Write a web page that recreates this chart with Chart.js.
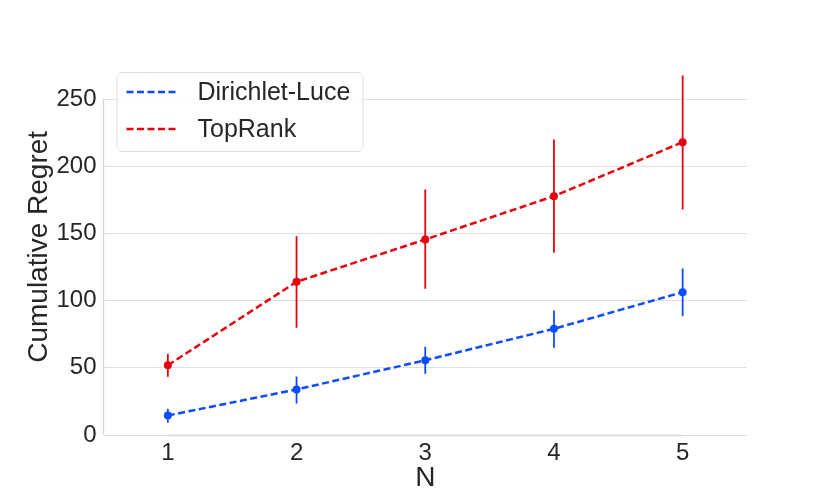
<!DOCTYPE html>
<html lang="en">
<head>
<meta charset="UTF-8">
<title>Cumulative Regret vs N</title>
<script src="https://cdn.jsdelivr.net/npm/chart.js@4.4.1/dist/chart.umd.min.js"></script>
<style>
  html, body { margin: 0; padding: 0; background: #fff; }
  #wrap { width: 830px; height: 498px; position: relative; }
</style>
</head>
<body>
<div id="wrap"><canvas id="chart"></canvas></div>
<script>
// data
var nValues = [1, 2, 3, 4, 5];
var yTicks = [0, 50, 100, 150, 200, 250];

var dlMean = [14.5, 33.9, 55.6, 79.0, 106.3];
var dlLow  = [9.1, 23.4, 45.5, 64.9, 88.4];
var dlHigh = [19.5, 43.5, 65.6, 92.6, 123.9];

var trMean = [51.9, 114.0, 145.5, 177.7, 217.9];
var trLow  = [43.3, 79.8, 108.8, 135.6, 167.8];
var trHigh = [60.4, 147.9, 182.7, 219.9, 267.5];

var BLUE = '#0d4cff';
var RED = '#e8000b';
var FONT = "Arial, 'Liberation Sans', sans-serif";
var TEXT = '#262626';

function pts(ys) {
  return nValues.map(function (n, i) { return { x: n, y: ys[i] }; });
}

// vertical error bars
var errorBars = {
  id: 'errorBars',
  afterDatasetsDraw: function (chart) {
    var ctx = chart.ctx, xs = chart.scales.x, ys = chart.scales.y;
    chart.data.datasets.forEach(function (ds) {
      ctx.save();
      ctx.strokeStyle = ds.borderColor;
      ctx.lineWidth = 1.8;
      for (var i = 0; i < nValues.length; i++) {
        var px = xs.getPixelForValue(nValues[i]);
        ctx.beginPath();
        ctx.moveTo(px, ys.getPixelForValue(ds.errLow[i]));
        ctx.lineTo(px, ys.getPixelForValue(ds.errHigh[i]));
        ctx.stroke();
      }
      ctx.restore();
    });
  }
};

// trimmed spines like seaborn despine(trim=True)
var spines = {
  id: 'spines',
  beforeDatasetsDraw: function (chart) {
    var ctx = chart.ctx, xs = chart.scales.x, ys = chart.scales.y, a = chart.chartArea;
    ctx.save();
    ctx.strokeStyle = '#d6d6d6';
    ctx.lineWidth = 1.3;
    ctx.beginPath();
    ctx.moveTo(a.left, ys.getPixelForValue(yTicks[0]));
    ctx.lineTo(a.left, ys.getPixelForValue(yTicks[yTicks.length - 1]));
    ctx.moveTo(xs.getPixelForValue(nValues[0]), a.bottom + 0.5);
    ctx.lineTo(xs.getPixelForValue(nValues[nValues.length - 1]), a.bottom + 0.5);
    ctx.stroke();
    ctx.restore();
  }
};

// legend box in upper left
var boxLegend = {
  id: 'boxLegend',
  afterDraw: function (chart) {
    var ctx = chart.ctx, a = chart.chartArea;
    var x = a.left + 13, y = 72, w = 246, h = 79, r = 5;
    ctx.save();
    ctx.beginPath();
    ctx.roundRect(x + 0.5, y + 0.5, w, h, r);
    ctx.fillStyle = 'rgba(255,255,255,0.85)';
    ctx.fill();
    ctx.strokeStyle = '#dddddd';
    ctx.lineWidth = 1;
    ctx.stroke();
    chart.data.datasets.forEach(function (ds, i) {
      var cy = y + 20 + i * 37;
      ctx.beginPath();
      ctx.setLineDash([7, 3.5]);
      ctx.strokeStyle = ds.borderColor;
      ctx.lineWidth = 2.4;
      ctx.moveTo(x + 10, cy);
      ctx.lineTo(x + 60, cy);
      ctx.stroke();
      ctx.setLineDash([]);
      ctx.fillStyle = TEXT;
      ctx.font = '25px ' + FONT;
      ctx.textBaseline = 'middle';
      ctx.fillText(ds.label, x + 81, cy + 1);
    });
    ctx.restore();
  }
};

new Chart(document.getElementById('chart'), {
  type: 'line',
  data: {
    datasets: [
      { label: 'Dirichlet-Luce', data: pts(dlMean), errLow: dlLow, errHigh: dlHigh,
        borderColor: BLUE, backgroundColor: BLUE },
      { label: 'TopRank', data: pts(trMean), errLow: trLow, errHigh: trHigh,
        borderColor: RED, backgroundColor: RED }
    ]
  },
  options: {
    responsive: true,
    maintainAspectRatio: false,
    animation: false,
    layout: { padding: { top: 58.7, right: 83, left: 0, bottom: 0 } },
    elements: {
      line: { borderWidth: 2.5, borderDash: [7, 3.5], tension: 0, fill: false },
      point: { radius: 4, borderWidth: 0, hoverRadius: 4 }
    },
    plugins: { legend: { display: false }, tooltip: { enabled: false } },
    scales: {
      x: {
        type: 'linear', min: 0.5, max: 5.5,
        afterBuildTicks: function (s) { s.ticks = nValues.map(function (v) { return { value: v }; }); },
        afterFit: function (s) { s.height = 63; },
        grid: { display: false },
        border: { display: false },
        ticks: { color: TEXT, font: { family: FONT, size: 24 }, padding: -4, maxRotation: 0 },
        title: { display: true, text: 'N', color: TEXT, font: { family: FONT, size: 28 }, padding: { top: 0, bottom: 3 } }
      },
      y: {
        min: 0, max: 280,
        afterBuildTicks: function (s) { s.ticks = yTicks.map(function (v) { return { value: v }; }); },
        afterFit: function (s) { s.width = 103.5; },
        grid: { color: '#e0e0e0', lineWidth: 1, drawTicks: false },
        border: { display: false },
        ticks: { color: TEXT, font: { family: FONT, size: 24 }, padding: 7 },
        title: { display: true, text: 'Cumulative Regret', color: TEXT, font: { family: FONT, size: 28 }, padding: { top: 22, bottom: 0 } }
      }
    }
  },
  plugins: [spines, errorBars, boxLegend]
});
</script>
</body>
</html>
